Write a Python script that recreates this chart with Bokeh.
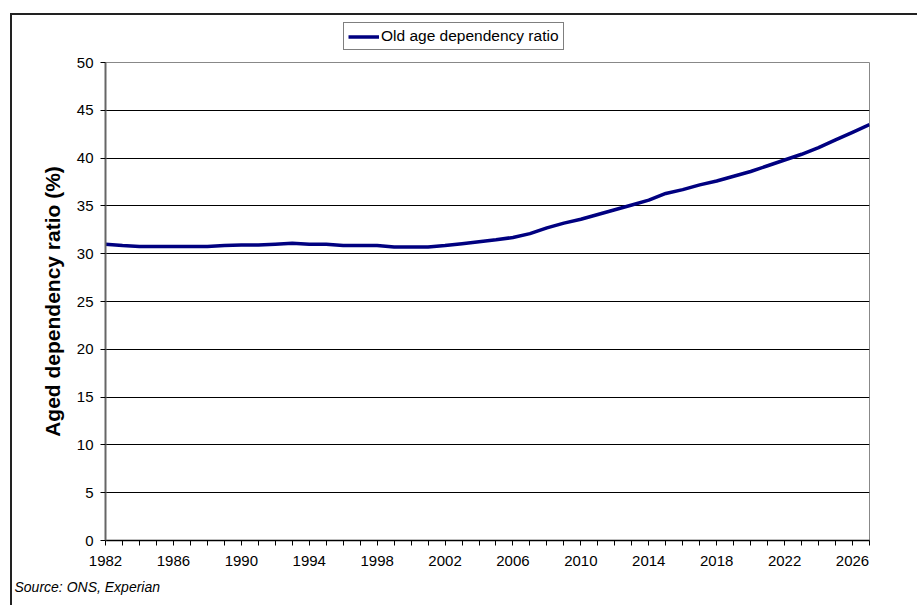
from bokeh.plotting import figure
from bokeh.layouts import column
from bokeh.models import (ColumnDataSource, FixedTicker, Legend, LegendItem,
                          Title, Range1d)
from bokeh.embed import file_html
from bokeh.resources import INLINE

# Old age dependency ratio (%), 1982-2027
years = list(range(1982, 2028))
ratio = [31.0, 30.85, 30.75, 30.75, 30.75, 30.75, 30.75, 30.85, 30.9, 30.9,
         31.0, 31.1, 31.0, 31.0, 30.85, 30.85, 30.85, 30.7, 30.7, 30.7,
         30.85, 31.05, 31.25, 31.45, 31.7, 32.1, 32.7, 33.2, 33.6, 34.1,
         34.6, 35.1, 35.6, 36.3, 36.7, 37.2, 37.6, 38.1, 38.6, 39.2,
         39.8, 40.4, 41.1, 41.9, 42.7, 43.5]
y_ticks = list(range(0, 55, 5))
x_label_years = list(range(1982, 2027, 4))

FONT = "Liberation Sans"
LINE_COLOR = "#000080"
LINE_WIDTH = 3.5

src = ColumnDataSource(dict(year=years, ratio=ratio))

# ---- main chart ----
p = figure(width=905, height=550, output_backend="svg", toolbar_location=None,
           x_range=Range1d(1982, 2027), y_range=Range1d(0, 50),
           min_border_left=93, min_border_right=48,
           min_border_top=7, min_border_bottom=65)

p.background_fill_color = "white"
p.border_fill_color = "white"
p.outline_line_color = "#888888"
p.outline_line_width = 1

p.line("year", "ratio", source=src, line_color=LINE_COLOR, line_width=LINE_WIDTH)

p.yaxis.ticker = FixedTicker(ticks=y_ticks)
p.xaxis.ticker = FixedTicker(ticks=years)
p.xaxis.major_label_overrides = {y: (str(y) if y in x_label_years else "") for y in years}

for ax in (p.xaxis[0], p.yaxis[0]):
    ax.major_label_text_font = FONT
    ax.major_label_text_font_size = "15px"
    ax.major_label_text_color = "black"
    ax.major_tick_out = 5
    ax.major_tick_in = 0
    ax.minor_tick_out = 0
    ax.minor_tick_in = 0
    ax.major_tick_line_color = "black"
    ax.axis_line_width = 2

p.yaxis.axis_line_color = "#666666"
p.xaxis.axis_line_color = "black"
p.xaxis.axis_line_width = 1.5
p.yaxis.major_label_standoff = 7
p.xaxis.major_label_standoff = 10

p.yaxis.axis_label = "Aged dependency ratio (%)"
p.yaxis.axis_label_text_font = FONT
p.yaxis.axis_label_text_font_size = "21px"
p.yaxis.axis_label_text_font_style = "bold"
p.yaxis.axis_label_text_color = "black"
p.yaxis.axis_label_standoff = 10

p.xgrid.visible = False
p.ygrid.ticker = FixedTicker(ticks=y_ticks)
p.ygrid.grid_line_color = "black"
p.ygrid.grid_line_width = 1

# source note at the foot of the chart
p.add_layout(Title(text="Source: ONS, Experian", align="left", offset=-91,
                   vertical_align="bottom",
                   text_font=FONT, text_font_size="14px",
                   text_font_style="italic", text_color="black",
                   standoff=17), "below")

# ---- legend strip above the chart ----
# the key line reuses the series but lies outside this strip's ranges,
# so only its legend sample is visible
top = figure(width=905, height=40, output_backend="svg", toolbar_location=None,
             x_range=Range1d(0, 1), y_range=Range1d(0, 1),
             x_axis_type=None, y_axis_type=None,
             min_border_left=0, min_border_right=0,
             min_border_top=0, min_border_bottom=0)
top.outline_line_color = None
top.grid.visible = False
top.background_fill_color = "white"
top.border_fill_color = "white"
key = top.line("year", "ratio", source=src, line_color=LINE_COLOR, line_width=LINE_WIDTH)

legend = Legend(items=[LegendItem(label="Old age dependency ratio", renderers=[key])],
                location=(238, 5), orientation="horizontal",
                label_text_font=FONT, label_text_font_size="15.5px",
                label_text_color="black",
                border_line_color="black", border_line_width=1,
                background_fill_alpha=1.0, padding=4, margin=0,
                glyph_width=31, glyph_height=17, label_height=17,
                label_standoff=2, spacing=0)
top.add_layout(legend, "center")

# chart box: left and top edges
layout = column(top, p, spacing=0, margin=(13, 0, 0, 10),
                styles={"border-left": "2px solid #222222",
                        "border-top": "2px solid #222222"})

open("out.html", "w").write(file_html(layout, INLINE))
